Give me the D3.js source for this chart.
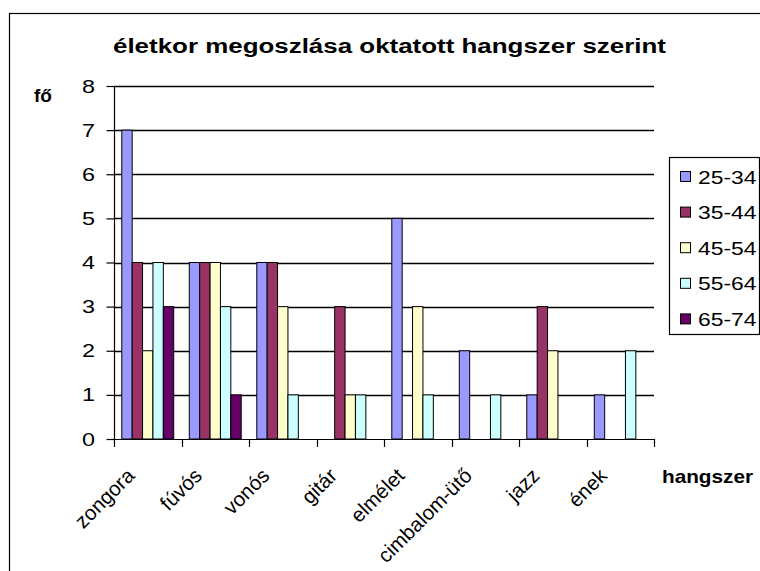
<!DOCTYPE html>
<html>
<head>
<meta charset="utf-8">
<script src="https://cdn.jsdelivr.net/npm/d3@7"></script>
<style>
    html, body { margin: 0; padding: 0; background: #ffffff; }
    svg { display: block; }
    text { font-family: "Liberation Sans", Arial, sans-serif; fill: #000; }
</style>
</head>
<body>
<div id="chart"></div>
<script>
const categories = ['zongora', 'fúvós', 'vonós', 'gitár', 'elmélet', 'cimbalom-ütő', 'jazz', 'ének'];
const seriesNames = ['25-34', '35-44', '45-54', '55-64', '65-74'];
const age25to34 = [7, 4, 4, 0, 5, 2, 1, 1];
const age35to44 = [4, 4, 4, 3, 0, 0, 3, 0];
const age45to54 = [2, 4, 3, 1, 3, 0, 2, 0];
const age55to64 = [4, 3, 1, 1, 1, 1, 0, 2];
const age65to74 = [3, 1, 0, 0, 0, 0, 0, 0];
const yTicks = [0, 1, 2, 3, 4, 5, 6, 7, 8];

const seriesValues = [age25to34, age35to44, age45to54, age55to64, age65to74];
const seriesColors = ['#9999FF', '#993366', '#FFFFCC', '#CCFFFF', '#660066'];

class AgeChart {
    constructor() {
        this.width = 760;
        this.height = 571;
        this.plot = {left: 114, right: 654, top: 86, bottom: 439};
        this.svg = d3.select('#chart').append('svg')
            .attr('width', this.width)
            .attr('height', this.height);
        this.setupScales();
        this.drawFrame();
        this.drawGrid();
        this.drawBars();
        this.drawAxes();
        this.drawLegend();
    }

    setupScales() {
        this.x = d3.scaleBand()
            .domain(categories)
            .range([this.plot.left, this.plot.right]);
        // excel style: gap width 150%
        this.barW = this.x.bandwidth() / (seriesNames.length + 1.5);
        this.xInner = d3.scaleBand()
            .domain(seriesNames)
            .range([this.barW * 0.75, this.barW * 0.75 + this.barW * seriesNames.length]);
        this.y = d3.scaleLinear()
            .domain([0, 8])
            .range([this.plot.bottom, this.plot.top]);
    }

    drawFrame() {
        this.svg.append('rect')
            .attr('x', 9.5).attr('y', 13.5)
            .attr('width', 800).attr('height', 700)
            .attr('fill', 'none')
            .attr('stroke', '#000')
            .attr('stroke-width', 1.2);

        this.svg.append('text')
            .attr('x', 113).attr('y', 53)
            .attr('font-size', 20)
            .attr('font-weight', 'bold')
            .attr('textLength', 553)
            .attr('lengthAdjust', 'spacingAndGlyphs')
            .text('életkor megoszlása oktatott hangszer szerint');

        this.svg.append('text')
            .attr('x', 34).attr('y', 102)
            .attr('font-size', 19)
            .attr('font-weight', 'bold')
            .text('fő');

        this.svg.append('text')
            .attr('x', 662).attr('y', 483)
            .attr('font-size', 18.5)
            .attr('font-weight', 'bold')
            .attr('textLength', 91)
            .attr('lengthAdjust', 'spacingAndGlyphs')
            .text('hangszer');
    }

    drawGrid() {
        this.svg.append('g')
            .selectAll('line')
            .data(yTicks.filter(d => d > 0))
            .enter()
            .append('line')
            .attr('x1', this.plot.left).attr('x2', this.plot.right)
            .attr('y1', d => Math.round(this.y(d)) + 0.5)
            .attr('y2', d => Math.round(this.y(d)) + 0.5)
            .attr('stroke', '#000')
            .attr('stroke-width', 1.3);
    }

    drawBars() {
        const groups = this.svg.append('g')
            .selectAll('g')
            .data(seriesNames)
            .enter()
            .append('g')
            .attr('fill', (d, i) => seriesColors[i]);

        groups.selectAll('rect')
            .data((name, i) => seriesValues[i].map((v, j) => ({name, cat: categories[j], v})))
            .enter()
            .filter(d => d.v > 0)
            .append('rect')
            .attr('x', d => this.x(d.cat) + this.xInner(d.name))
            .attr('y', d => this.y(d.v))
            .attr('width', this.barW)
            .attr('height', d => this.y(0) - this.y(d.v))
            .attr('stroke', '#000')
            .attr('stroke-width', 1);
    }

    drawAxes() {
        const yAxis = this.svg.append('g')
            .attr('transform', `translate(${this.plot.left + 0.5},0)`)
            .call(d3.axisLeft(this.y).tickValues(yTicks).tickSize(8).tickFormat(''));
        yAxis.selectAll('path, line').attr('stroke', '#000').attr('stroke-width', 1.2);
        yAxis.select('.domain').attr('d', `M0,${this.plot.top}V${this.plot.bottom}`);

        // tick digits are drawn wide in the original
        this.svg.append('g')
            .selectAll('text')
            .data(yTicks)
            .enter()
            .append('text')
            .attr('transform', d => `translate(95,${this.y(d) + 6.5}) scale(1.3,1)`)
            .attr('text-anchor', 'end')
            .attr('font-size', 18)
            .text(d => d);

        const xAxis = this.svg.append('g')
            .attr('transform', `translate(0,${this.plot.bottom + 0.5})`)
            .call(d3.axisBottom(this.x).tickSize(0).tickFormat(''));
        xAxis.select('.domain')
            .attr('d', `M${this.plot.left},0H${this.plot.right}`)
            .attr('stroke', '#000').attr('stroke-width', 1.2);

        const edges = categories.map(c => this.x(c)).concat([this.plot.right]);
        this.svg.append('g')
            .selectAll('line')
            .data(edges)
            .enter()
            .append('line')
            .attr('x1', d => Math.round(d) + 0.5).attr('x2', d => Math.round(d) + 0.5)
            .attr('y1', this.plot.bottom).attr('y2', this.plot.bottom + 8)
            .attr('stroke', '#000')
            .attr('stroke-width', 1.2);

        this.svg.append('g')
            .selectAll('text')
            .data(categories)
            .enter()
            .append('text')
            .attr('transform', d => `translate(${this.x(d) + this.x.bandwidth() / 2 - 12},477) rotate(-45)`)
            .attr('text-anchor', 'end')
            .attr('font-size', 20.5)
            .text(d => d);
    }

    drawLegend() {
        const legend = this.svg.append('g');
        legend.append('rect')
            .attr('x', 669.5).attr('y', 157.5)
            .attr('width', 90).attr('height', 177)
            .attr('fill', '#fff')
            .attr('stroke', '#000')
            .attr('stroke-width', 1.2);

        const rows = legend.selectAll('g')
            .data(seriesNames)
            .enter()
            .append('g')
            .attr('transform', (d, i) => `translate(0,${177 + i * 35.6})`);

        rows.append('rect')
            .attr('x', 680.5).attr('y', -5.5)
            .attr('width', 10).attr('height', 10)
            .attr('fill', (d, i) => seriesColors[i])
            .attr('stroke', '#000')
            .attr('stroke-width', 1);

        rows.append('text')
            .attr('transform', 'translate(698,6.5) scale(1.27,1)')
            .attr('font-size', 18)
            .text(d => d);
    }
}

const ageChart = new AgeChart();
</script>
</body>
</html>
